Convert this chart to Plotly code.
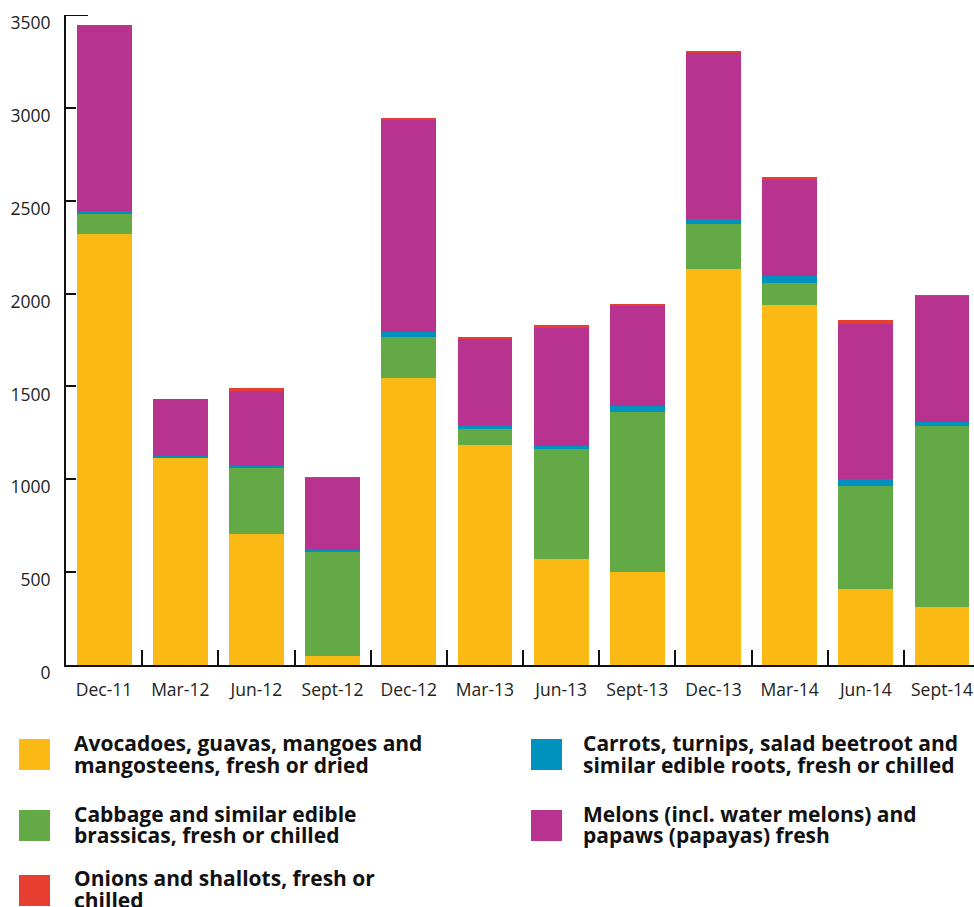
import plotly.graph_objects as go

# Quarterly import values (stacked), bottom to top
categories = ["Dec-11", "Mar-12", "Jun-12", "Sept-12", "Dec-12", "Mar-13",
              "Jun-13", "Sept-13", "Dec-13", "Mar-14", "Jun-14", "Sept-14"]
avocados = [2323, 1115, 707, 50, 1546, 1187, 573, 499, 2131, 1939, 407, 312]
cabbage = [110, 3, 352, 559, 221, 86, 592, 865, 242, 118, 559, 973]
carrots = [10, 8, 12, 9, 24, 17, 14, 29, 26, 38, 34, 21]
melons = [1004, 308, 408, 389, 1145, 467, 636, 541, 899, 515, 838, 681]
onions = [0, 0, 10, 5, 8, 10, 16, 10, 10, 17, 20, 5]

y_ticks = [0, 500, 1000, 1500, 2000, 2500, 3000, 3500]

series = [
    ("Avocadoes, guavas, mangoes and", "mangosteens, fresh or dried", avocados, "#FBB916"),
    ("Cabbage and similar edible", "brassicas, fresh or chilled", cabbage, "#63AA46"),
    ("Carrots, turnips, salad beetroot and", "similar edible roots, fresh or chilled", carrots, "#0092BE"),
    ("Melons (incl. water melons) and", "papaws (papayas) fresh", melons, "#B7338F"),
    ("Onions and shallots, fresh or", "chilled", onions, "#E63F32"),
]

W, H = 974, 907
L, R, T, B = 66, 0, 15, 242
PW, PH = W - L - R, H - T - B

FONT = "Open Sans"

fig = go.Figure()
for l1, l2, vals, col in series:
    fig.add_trace(go.Bar(
        x=categories, y=vals, name=f"{l1} {l2}",
        marker=dict(color=col, line=dict(width=0)),
        showlegend=False,
    ))


def px_x(px):
    return (px - L) / PW


def px_y(py):
    return (H - B - py) / PH


# Legend drawn as swatches + two-line labels in a 2-column grid
# (series index, column, row)
legend_slots = [(0, 0, 0), (1, 0, 1), (4, 0, 2), (2, 1, 0), (3, 1, 1)]
col_swatch_x = [19, 531]
col_text_x = [72, 581]
row_swatch_top = [739, 810, 875]
row_text_mid = [743, 813.5, 878]
line_gap = 21.7
SW = 31

shapes = []
annotations = []
for idx, c, r in legend_slots:
    l1, l2, _, colr = series[idx]
    shapes.append(dict(
        type="rect", xref="paper", yref="paper",
        x0=px_x(col_swatch_x[c]), x1=px_x(col_swatch_x[c] + SW),
        y0=px_y(row_swatch_top[r]), y1=px_y(row_swatch_top[r] + SW),
        fillcolor=colr, line=dict(width=0), layer="above",
    ))
    for k, txt in enumerate((l1, l2)):
        annotations.append(dict(
            text=txt, xref="paper", yref="paper",
            x=px_x(col_text_x[c]), y=px_y(row_text_mid[r] + k * line_gap),
            xanchor="left", yanchor="middle", showarrow=False,
            font=dict(family=FONT, size=21, color="#111111", weight=700),
        ))

# longer cap tick at the top of the value axis
shapes.append(dict(
    type="line", xref="paper", yref="y",
    x0=px_x(65), x1=px_x(88), y0=3500, y1=3500,
    line=dict(color="#111111", width=2),
))

fig.update_layout(
    width=W, height=H,
    margin=dict(l=L, r=R, t=T, b=B, pad=0),
    paper_bgcolor="white", plot_bgcolor="white",
    barmode="stack", bargap=0.28,
    font=dict(family=FONT, size=17, color="#1a1a1a"),
    xaxis=dict(
        type="category", range=[-0.5, 11.42],
        showline=True, linecolor="#111111", linewidth=2,
        ticks="inside", tickson="boundaries", ticklen=15, tickwidth=2,
        tickcolor="#111111", showgrid=False, zeroline=False,
        tickfont=dict(family=FONT, size=17.5, color="#222222"),
        ticklabelstandoff=8,
    ),
    yaxis=dict(
        range=[0, 3500.01], tickvals=y_ticks,
        ticktext=[str(v) for v in y_ticks],
        showline=True, linecolor="#111111", linewidth=2,
        ticks="inside", ticklen=10, tickwidth=2, tickcolor="#111111",
        showgrid=False, zeroline=False,
        tickfont=dict(family=FONT, size=17.5, color="#222222"),
        ticklabelshift=8, ticklabelstandoff=10,
    ),
    shapes=shapes,
    annotations=annotations,
)

fig.write_html("out.html")
